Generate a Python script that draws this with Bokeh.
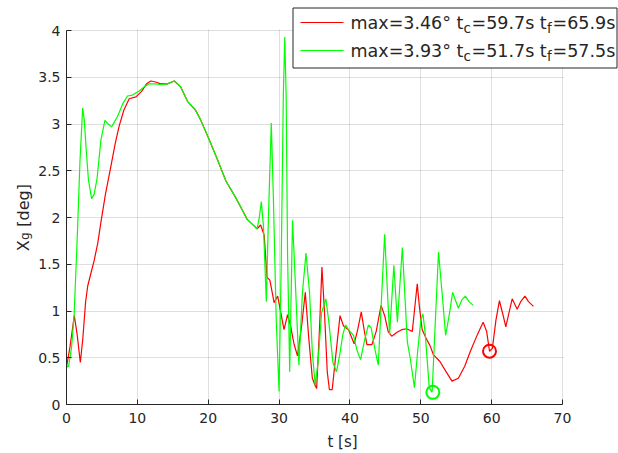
from math import pi
from bokeh.plotting import figure
from bokeh.models import Label, BoxAnnotation, FixedTicker, Range1d, LinearAxis
from bokeh.embed import file_html
from bokeh.resources import INLINE

# ---------------- data ----------------
red_t = [0.0, 0.5, 1.1, 1.5, 1.95, 2.3, 2.7, 3.0, 3.5, 3.9, 4.4, 4.86, 5.5, 6.27, 6.9, 7.44,
         8.1, 8.85, 9.8, 10.6, 11.3, 11.9, 12.6, 13.3, 14.25, 15.2, 16.1, 17.1, 18.2, 18.9,
         20.1, 21.3, 22.5, 23.9, 24.6, 25.5, 26.9, 27.4, 27.9, 28.3, 28.7, 29.3, 29.8, 30.7,
         31.2, 31.6, 32.1, 32.6, 33.2, 33.7, 34.2, 34.7, 35.0, 35.3, 35.7, 36.05, 36.4, 36.8,
         37.1, 37.5, 37.9, 38.6, 39.1, 39.8, 40.6, 41.1, 41.6, 42.0, 42.4, 43.1, 43.7, 44.4,
         44.9, 45.4, 45.9, 46.6, 47.3, 48.0, 48.8, 49.1, 49.5, 49.8, 50.2, 50.8, 51.3, 51.8,
         52.7, 53.5, 54.4, 55.3, 56.2, 57.0, 58.0, 58.8, 59.3, 59.7, 60.1, 60.6, 61.1, 61.6,
         62.0, 62.5, 62.9, 63.6, 64.1, 64.7, 65.2, 65.9]
red_v = [0.40, 0.62, 0.95, 0.75, 0.45, 0.70, 1.10, 1.27, 1.42, 1.54, 1.72, 1.95, 2.25, 2.55, 2.80, 2.98,
         3.15, 3.27, 3.29, 3.35, 3.43, 3.46, 3.45, 3.43, 3.43, 3.46, 3.40, 3.24, 3.15, 3.05,
         2.84, 2.62, 2.39, 2.21, 2.11, 1.98, 1.88, 1.92, 1.81, 1.36, 1.33, 1.09, 1.16, 0.80,
         0.96, 0.85, 0.65, 0.52, 0.85, 1.20, 0.70, 0.28, 0.22, 0.17, 0.80, 1.47, 1.00, 0.35,
         0.16, 0.16, 0.45, 0.95, 0.84, 0.80, 0.65, 0.80, 0.99, 0.80, 0.64, 0.64, 0.78, 1.06,
         0.95, 0.78, 0.73, 0.77, 0.80, 0.81, 0.78, 1.00, 1.29, 1.05, 0.80, 0.70, 0.63, 0.53,
         0.46, 0.36, 0.25, 0.28, 0.41, 0.57, 0.75, 0.88, 0.78, 0.57, 0.60, 0.90, 1.11, 0.96,
         0.83, 1.00, 1.13, 1.02, 1.10, 1.16, 1.10, 1.05]

green_t = [0.0, 0.3, 0.7, 1.07, 1.5, 1.9, 2.28, 2.5, 2.75, 3.1, 3.55, 3.9, 4.3, 4.86, 5.42, 5.9,
           6.36, 7.2, 7.9, 8.6, 9.3, 10.2, 11.0, 11.7, 12.6, 13.4, 14.25, 15.2, 16.1, 17.1, 18.2,
           18.9, 20.1, 21.3, 22.5, 23.9, 24.6, 25.5, 26.9, 27.2, 27.5, 27.8, 28.2, 28.5, 28.9,
           29.2, 29.6, 30.0, 30.3, 30.6, 30.8, 31.0, 31.2, 31.5, 31.9, 32.3, 32.8, 33.3, 33.8,
           34.3, 34.7, 35.1, 35.5, 36.0, 36.6, 37.0, 37.6, 38.1, 38.6, 39.0, 39.4, 39.8, 40.5,
           41.0, 41.5, 42.1, 42.6, 43.0, 43.5, 44.0, 44.5, 44.9, 45.3, 45.6, 46.2, 46.7, 47.4,
           47.8, 48.1, 48.5, 49.1, 49.6, 50.0, 50.3, 50.6, 51.2, 51.6, 52.0, 52.5, 53.0, 53.5,
           54.0, 54.5, 55.3, 55.8, 56.3, 56.8, 57.4]
green_v = [0.40, 0.41, 0.60, 0.95, 1.75, 2.60, 3.17, 3.05, 2.76, 2.40, 2.20, 2.25, 2.41, 2.83, 3.04, 3.00,
           2.97, 3.08, 3.21, 3.30, 3.31, 3.35, 3.40, 3.43, 3.43, 3.42, 3.43, 3.46, 3.40, 3.24, 3.15,
           3.05, 2.84, 2.62, 2.39, 2.21, 2.11, 1.98, 1.88, 2.00, 2.17, 1.90, 1.10, 2.00, 3.01,
           2.20, 0.90, 0.14, 1.50, 3.30, 3.93, 3.30, 1.60, 0.35, 1.97, 1.30, 0.42, 1.20, 1.62,
           1.20, 0.55, 0.21, 0.45, 0.98, 1.13, 0.90, 0.45, 0.35, 0.55, 0.75, 0.85, 0.80, 0.74,
           0.58, 0.48, 0.70, 0.85, 0.82, 0.60, 0.42, 1.20, 1.82, 1.20, 0.75, 1.49, 0.88, 1.68,
           1.10, 0.67, 0.50, 0.18, 0.60, 0.90, 0.97, 0.78, 0.18, 0.13, 0.80, 1.63, 1.20, 0.74,
           0.95, 1.20, 1.03, 1.12, 1.16, 1.10, 1.06]

red_tc = [59.7]
red_tc_v = [0.57]
green_tc = [51.7]
green_tc_v = [0.13]

x_ticks = [0, 10, 20, 30, 40, 50, 60, 70]
y_ticks = [0, 0.5, 1, 1.5, 2, 2.5, 3, 3.5, 4]
y_tick_labels = ["0", "0.5", "1", "1.5", "2", "2.5", "3", "3.5", "4"]
x_lim = (0, 70)
y_lim = (0, 4)

legend_red = ["max=3.46° t", "c", "=59.7s t", "f", "=65.9s"]
legend_green = ["max=3.93° t", "c", "=51.7s t", "f", "=57.5s"]
x_label = "t [s]"
y_label_parts = ["X", "[deg]"]
y_label_sub = "g"

# ---------------- layout geometry (pixels) ----------------
W, H = 618, 453
FL, FB = 66, 406              # frame left / bottom (canvas px)
PX_X = 496.0 / 70.0           # px per x unit
PX_Y = 375.8 / 4.0            # px per y unit
x_end = (W - FL) / PX_X
y_end = FB / PX_Y

def fx(cx):
    return cx - FL

def fy(cy):
    return FB - cy

def vy(cy):                   # canvas y -> y data units
    return (FB - cy) / PX_Y

TXT = "#262626"
FONT = "DejaVu Sans"

p = figure(width=W, height=H, x_range=Range1d(0, x_end), y_range=Range1d(0, y_end),
           output_backend="svg", toolbar_location=None,
           min_border_left=FL, min_border_right=0, min_border_top=0, min_border_bottom=H - FB)
p.outline_line_color = None
p.background_fill_color = "white"
p.border_fill_color = "white"

xax = p.xaxis[0]
yax = p.yaxis[0]
for ax in (xax, yax):
    ax.axis_line_color = TXT
    ax.axis_line_width = 1
    ax.major_tick_line_color = TXT
    ax.major_tick_in = 5
    ax.major_tick_out = 0
    ax.minor_tick_in = 0
    ax.minor_tick_out = 0
    ax.major_label_text_font = FONT
    ax.major_label_text_font_size = "14px"
    ax.major_label_text_color = TXT

xax.major_label_standoff = 8
yax.major_label_standoff = 6
xax.bounds = x_lim
yax.bounds = y_lim
xax.ticker = FixedTicker(ticks=x_ticks)
yax.ticker = FixedTicker(ticks=y_ticks)
yax.major_label_overrides = {float(v): s for v, s in zip(y_ticks, y_tick_labels)}

xax.axis_label = x_label
xax.axis_label_text_font = FONT
xax.axis_label_text_font_size = "15px"
xax.axis_label_text_font_style = "normal"
xax.axis_label_text_color = TXT
xax.axis_label_standoff = 7

def helper_axis(labels_at, size, standoff, line_height=1.2):
    return LinearAxis(ticker=FixedTicker(ticks=list(labels_at.keys())),
                      major_label_overrides=labels_at,
                      major_label_orientation=pi / 2,
                      axis_line_color=None, major_tick_line_color=None,
                      minor_tick_line_color=None,
                      major_tick_in=0, major_tick_out=0, minor_tick_in=0, minor_tick_out=0,
                      major_label_text_font=FONT, major_label_text_font_size=size,
                      major_label_text_line_height=line_height,
                      major_label_text_color=TXT, major_label_standoff=standoff)

# y label "X_g [deg]": subscript column next to the axis, main text just outside it
# (each rotated label ends at its tick position)
ax_sub = helper_axis({vy(233.0): y_label_sub}, "12px", 10)
ax_main = helper_axis({vy(241.0): y_label_parts[0], vy(184.5): y_label_parts[1]},
                      "16px", -15, line_height=0.6)
p.add_layout(ax_sub, "left")
p.add_layout(ax_main, "left")

for g in (p.xgrid, p.ygrid):
    g.grid_line_color = TXT
    g.grid_line_alpha = 0.15

# mask grid lines outside the axes box (area used only by the legend)
p.add_layout(BoxAnnotation(left=x_lim[1] + 1.0 / PX_X, right=x_end, bottom=0, top=y_end,
                           fill_color="white", fill_alpha=1.0, line_color=None, level="underlay"))
p.add_layout(BoxAnnotation(left=0, right=x_end, bottom=y_lim[1] + 1.0 / PX_Y, top=y_end,
                           fill_color="white", fill_alpha=1.0, line_color=None, level="underlay"))

p.line(red_t, red_v, line_color="#ff0000", line_width=1.2)
p.line(green_t, green_v, line_color="#00ff00", line_width=1.2)
p.scatter(red_tc, red_tc_v, marker="circle", size=13, fill_color=None,
          line_color="#ff0000", line_width=2)
p.scatter(green_tc, green_tc_v, marker="circle", size=13, fill_color=None,
          line_color="#00ff00", line_width=2)

# ---------------- legend ----------------
lg_l, lg_r, lg_t, lg_b = 292.5, 616.5, 9.5, 69.5
p.add_layout(BoxAnnotation(left=fx(lg_l), right=fx(lg_r), top=fy(lg_t), bottom=fy(lg_b),
                           left_units="screen", right_units="screen",
                           top_units="screen", bottom_units="screen",
                           fill_color="white", fill_alpha=1.0,
                           line_color=TXT, line_width=1, line_alpha=1.0))

rows = [(24, "#ff0000", legend_red), (52, "#00ff00", legend_green)]
offs = [0, 113, 121, 196.5, 202]
tx0 = 350
for cy, col, parts in rows:
    p.add_layout(BoxAnnotation(left=fx(300), right=fx(343), top=fy(cy - 0.6), bottom=fy(cy + 0.6),
                               left_units="screen", right_units="screen",
                               top_units="screen", bottom_units="screen",
                               fill_color=col, fill_alpha=1.0, line_color=None))
    for i, (part, dx) in enumerate(zip(parts, offs)):
        sub = i in (1, 3)
        p.add_layout(Label(x=fx(tx0 + dx), y=fy(cy + (5 if sub else 0)),
                           x_units="screen", y_units="screen", text=part,
                           text_align="left", text_baseline="middle", text_font=FONT,
                           text_font_size="13.5px" if sub else "17.5px", text_color=TXT))

open("out.html", "w").write(file_html(p, INLINE))
